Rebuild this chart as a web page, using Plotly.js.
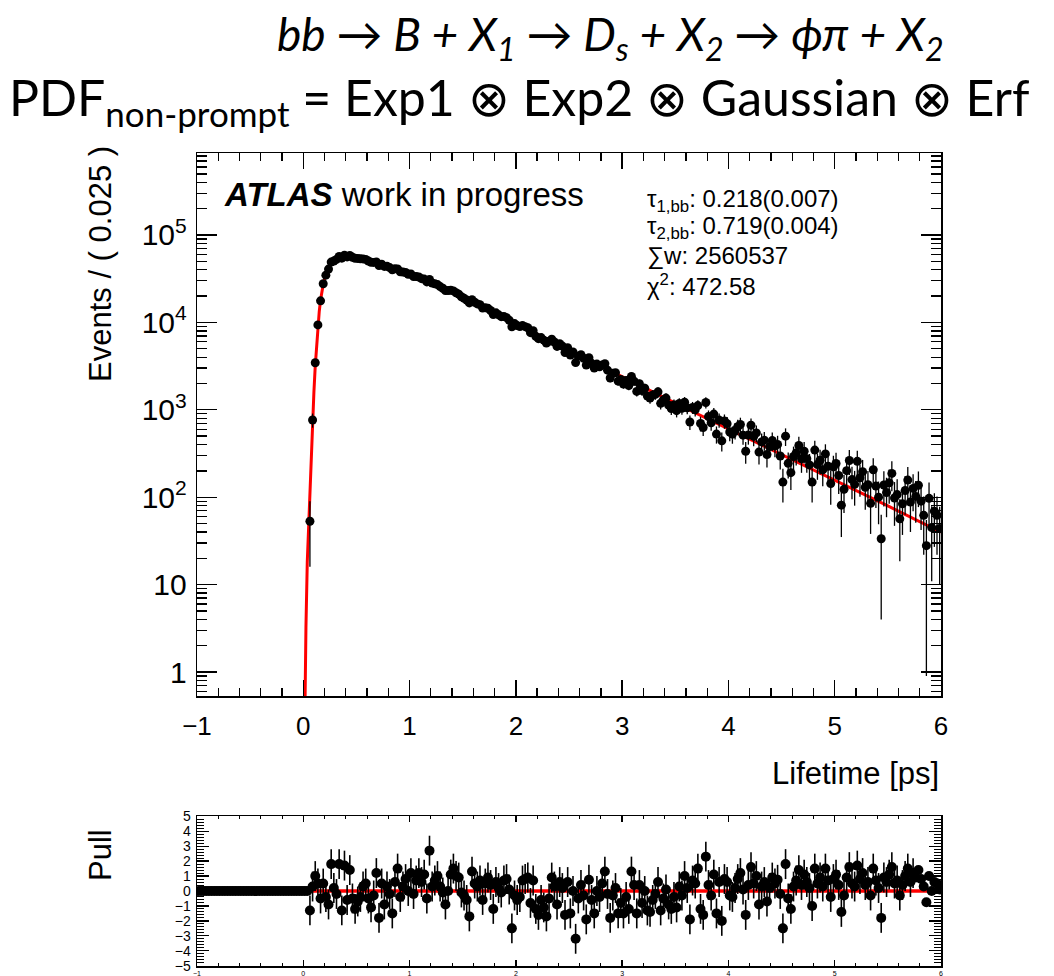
<!DOCTYPE html>
<html><head><meta charset="utf-8">
<script src="https://cdn.plot.ly/plotly-3.0.1.min.js"></script>
<style>body{margin:0;background:#fff}#chart{width:1054px;height:976px}</style>
</head><body><div id="chart"></div>
<script>
// ---- binning of the histogram ----
const histMin = -1, binWidth = 0.025, nBins = 280;
const firstFilledBin = 42; // bins below this are empty (pull drawn at 0)

// ---- data: events per bin (bins from 0.0625 ps onward) ----
const counts = [
53,765,3450,9360,17650,27650,34700,40750,48980,50460,
52550,56790,54340,58620,56080,58320,55590,54100,53920,53350,
53250,52570,50410,48660,48520,49170,44780,46250,43700,43970,
42390,39950,41070,40930,38000,37720,37240,35530,35750,33510,
33460,33030,31640,31260,29040,31030,28140,27620,27050,25660,
24570,23190,23180,23310,22900,21800,21040,19640,18860,18030,
16690,18140,17010,16280,15960,14600,14750,14480,13680,12270,
12860,12200,11630,11670,11330,10580,8885,9680,9197,8978,
9197,8938,8688,7623,8032,6927,6509,6703,6262,5795,
6071,6418,5972,5311,5691,5353,4518,5142,4229,4591,
3470,4110,4258,3886,3244,3943,3398,3005,3335,3102,
3248,3361,2839,2309,2616,2653,2127,2223,1969,2160,
1893,2406,2122,1622,1983,1656,1768,1434,1360,1472,
1500,1606,1186,1293,1360,1130,1036,1138,977,1181,
1042,1221,1053,725,1063,999,1118,699,628,1212,
836,710,893,527,763,441,745,694,557,526,
579,639,679,513,335,515,665,496,544,328,
429,449,308,379,444,386,402,296,149,499,
244,191,292,321,390,275,336,276,234,149,
346,236,265,206,313,226,143,222,243,177,
81,123,201,263,159,140,257,167,196,130,
139,85,206,134,100,33.5,138,113,146,187,
98,107,56.5,84,119,157,88,126,102,137,
90,62,27.9,97,44.9,69,62,43.9
];
const countErr = [
37,141,300,493,677,848,950,1029,1128,1145,
1169,1215,1189,1235,1208,1231,1202,1186,1184,1178,
1177,1169,1145,1125,1123,1131,1079,1097,1066,1069,
1050,1019,1033,1032,994,990,984,961,964,933,
933,927,907,902,869,898,855,847,839,817,
799,776,776,778,772,753,740,715,700,685,
659,687,665,651,644,616,619,614,596,565,
578,563,550,551,543,524,481,502,489,483,
489,482,475,445,457,424,411,417,403,388,
397,408,394,372,385,373,343,366,332,346,
300,327,333,318,290,320,297,280,294,284,
291,296,272,245,261,263,235,240,226,237,
222,250,235,205,227,207,214,193,188,196,
197,204,176,183,188,171,164,172,159,175,
165,178,165,137,166,161,171,135,128,178,
147,136,152,117,141,107,139,134,120,117,
123,129,133,116,93,116,131,114,119,92,
106,108,90,99,107,100,102,88,62,114,
80,70,87,91,101,85,93,85,78,62,
95,78,83,73,90,77,61,76,80,68,
46,57,72,83,64,60,82,66,71,58,
60,47,73,59,51,29.5,60,54,62,70,
51,53,38,47,56,64,48,57,51,60,
48,40,27,50,34,42,40,34
];

// ---- pulls: all 280 bins (empty bins have pull 0) ----
const pulls = [
0,0,0,0,0,0,0,0,0,0, 0,0,0,0,0,0,0,0,0,0,
0,0,0,0,0,0,0,0,0,0, 0,0,0,0,0,0,0,0,0,0, 0,0,
-1.3,0.3,1.0,0.5,-0.5,0.5,-0.4,-0.9,1.8,0.2,
-0.2,1.8,-1.3,1.7,-0.6,1.4,-0.5,-1.2,-0.7,-0.4,
0.3,0.5,-0.5,-1.1,-0.3,1.2,-1.8,0.5,-0.9,0.3,
-0.2,-1.5,0.6,1.5,-0.4,0.3,0.8,0.0,1.2,-0.2,
0.7,1.2,0.6,1.1,-0.5,2.7,0.3,0.7,1.0,0.3,
-0.1,-0.9,0.0,1.1,1.5,1.0,0.9,-0.1,-0.3,-0.6,
-1.7,1.3,0.5,0.3,0.7,-0.6,0.5,0.9,0.4,-1.2,
0.6,0.2,-0.1,0.7,0.8,0.1,-2.5,-0.3,-0.6,-0.4,
0.7,0.8,0.9,-0.8,0.7,-1.2,-1.6,-0.6,-1.1,-1.7,
-0.5,0.9,0.3,-0.9,0.6,0.2,-1.6,0.6,-1.5,0.0,
-3.2,-0.5,0.4,-0.3,-1.9,0.75,-0.6,-1.5,0.0,-0.4,
0.5,1.3,-0.2,-1.8,-0.3,0.2,-1.5,-0.8,-1.5,-0.4,
-1.2,1.3,0.4,-1.5,0.4,-0.8,0.0,-1.3,-1.4,-0.6,
-0.2,0.6,-1.3,-0.5,0.1,-0.9,-1.2,-0.4,-1.1,0.3,
-0.3,1.0,0.2,-1.9,0.7,0.5,1.5,-1.2,-1.6,2.3,
0.4,-0.3,1.1,-1.5,0.6,-2.0,0.8,0.6,-0.3,-0.4,
0.2,0.8,1.2,0.1,-1.6,0.4,1.6,0.5,1.0,-0.9,
0.3,0.6,-0.7,0.2,0.9,0.5,0.75,-0.2,-2.5,1.8,
-0.5,-1.2,0.3,0.7,1.4,0.4,1.1,0.6,0.2,-1.0,
1.5,0.5,0.9,0.3,1.5,0.7,-0.4,0.8,1.1,0.4,
-1.4,-0.3,0.9,1.6,0.5,0.3,1.7,0.8,1.2,0.4,
0.6,-0.3,1.5,0.7,0.2,-1.8,0.9,0.6,1.1,1.6,
0.5,0.7,-0.3,0.4,1.0,1.5,0.6,1.2,0.9,1.4,
0.8,0.3,-0.75,1.0,0.0,0.6,0.5,0.1
];
const pullErr = [
0,0,0,0,0,0,0,0,0,0, 0,0,0,0,0,0,0,0,0,0,
0,0,0,0,0,0,0,0,0,0, 0,0,0,0,0,0,0,0,0,0, 0,0,
1,1,1,1,1,1,1,1,1,1, 1,1,1,1,1,1,1,1,1,1, 1,1,1,1,1,1,1,1,1,1,
1,1,1,1,1,1,1,1,1,1, 1,1,1,1,1,1,1,1,1,1, 1,1,1,1,1,1,1,1,1,1,
1,1,1,1,1,1,1,1,1,1, 1,1,1,1,1,1,1,1,1,1, 1,1,1,1,1,1,1,1,1,1,
1,1,1,1,1,1,1,1,1,1, 1,1,1,1,1,1,1,1,1,1, 1,1,1,1,1,1,1,1,1,1,
1,1,1,1,1,1,1,1,1,1, 1,1,1,1,1,1,1,1,1,1, 1,1,1,1,1,1,1,1,1,1,
1,1,1,1,1,1,1,1,1,1, 1,1,1,1,1,1,1,1,1,1, 1,1,1,1,1,1,1,1,1,1,
1,1,1,1,1,1,1,1,1,1, 1,1,1,1,1,1,1,1,1,1, 1,1,1,1,1,1,1,1,1,1,
1,1,1,1,1,1,1,1,1,1, 1,1,1,1,1,1,1,1
];

// ---- fitted PDF curve ----
const curveX = [0.0,0.015,0.025,0.0375,0.05,0.0625,0.075,0.0875,0.1,0.1125,
  0.125,0.1375,0.15,0.1625,0.175,0.1875,0.2,0.2125,0.2375,0.2625,
  0.3,0.35,0.4,0.45,0.5,0.6,0.7,0.8,0.9,1.0,
  1.2,1.4,1.6,1.8,2.0,2.2,2.5,2.8,3.1,3.5,4.0,4.5,5.0,5.5,6.0];
const curveY = [0.01,0.5,3.2,18,48,107,300,724,1600,3160,
  5700,9120,13300,18000,22800,27200,31400,35100,41700,47000,
  51900,55600,56900,56500,55200,51500,47300,43200,38900,35100,
  28300,22100,17000,12700,9660,7330,4840,3160,2070,1190,603,309,158,79.4,39.8];
const pullFitX = [0.0375, 6.0];
const pullFitY = [0, 0];

// ---- text ----
const titleLine1 = '<i>bb → B + X<sub>1</sub> → D<sub>s</sub> + X<sub>2</sub> → ϕπ + X<sub>2</sub></i>';
const titleLine2 = 'PDF<sub>non-prompt</sub> = Exp1 ⊗ Exp2 ⊗ Gaussian ⊗ Erf';
const statLines = ['τ<sub>1,bb</sub>: 0.218(0.007)', 'τ<sub>2,bb</sub>: 0.719(0.004)', '∑w: 2560537', 'χ<sup>2</sup>: 472.58'];
const statY = [201, 228, 256, 285];

// ---- derived bin centres ----
const centers = [];
for (let i = 0; i < nBins; i++) centers.push(+(histMin + binWidth * (i + 0.5)).toFixed(4));
const dataX = centers.slice(firstFilledBin);

// ---- geometry helpers ----
const W = 1054, H = 976, ML = 197, MR = 113, MT = 153, MB = 10;
const PW = W - ML - MR, PH = H - MT - MB;
const px = x => (x - ML) / PW;
const py = y => (H - MB - y) / PH;
const FONT = 'Liberation Sans, Arial, sans-serif';

const traces = [
  {x: curveX, y: curveY, type: 'scatter', mode: 'lines', line: {color: '#ff0000', width: 3}, xaxis: 'x', yaxis: 'y', hoverinfo: 'skip'},
  {x: dataX, y: counts, type: 'scatter', mode: 'markers', marker: {color: '#000', size: 9},
   error_y: {type: 'data', array: countErr, color: '#000', thickness: 1.3, width: 0}, xaxis: 'x', yaxis: 'y'},
  {x: pullFitX, y: pullFitY, type: 'scatter', mode: 'lines', line: {color: '#ff0000', width: 3.5}, xaxis: 'x2', yaxis: 'y2', hoverinfo: 'skip'},
  {x: centers, y: pulls, type: 'scatter', mode: 'markers', marker: {color: '#000', size: 10},
   error_y: {type: 'data', array: pullErr, color: '#000', thickness: 1.6, width: 0}, xaxis: 'x2', yaxis: 'y2'}
];

const axCommon = {showline: true, linecolor: '#000', linewidth: 1.5, mirror: 'allticks', ticks: 'inside',
  tickcolor: '#000', tickwidth: 1.3, showgrid: false, zeroline: false};

const layout = {
  width: W, height: H, margin: {l: ML, r: MR, t: MT, b: MB},
  paper_bgcolor: '#fff', plot_bgcolor: '#fff', showlegend: false,
  font: {family: FONT, color: '#000'},
  xaxis: Object.assign({}, axCommon, {domain: [0, 1], anchor: 'y', range: [-1, 6], dtick: 1, tick0: 0, ticklen: 16,
    tickfont: {family: FONT, size: 26}, ticklabelstandoff: 6,
    minor: {dtick: 0.2, ticklen: 8, tickwidth: 1.3, tickcolor: '#000', ticks: 'inside'}}),
  yaxis: Object.assign({}, axCommon, {domain: [py(696), 1], anchor: 'x', type: 'log', range: [-0.2746, 5.938], dtick: 1,
    exponentformat: 'power', ticklen: 20, tickfont: {family: FONT, size: 24}, ticklabelstandoff: 4,
    minor: {dtick: 'D1', ticklen: 10, tickwidth: 1.3, tickcolor: '#000', ticks: 'inside'}}),
  xaxis2: Object.assign({}, axCommon, {domain: [0, 1], anchor: 'y2', range: [-1, 6], dtick: 1, ticklen: 6,
    tickfont: {family: FONT, size: 7}, ticklabelstandoff: 0, ticklabeloverflow: 'allow',
    minor: {dtick: 0.2, ticklen: 3, tickwidth: 1, tickcolor: '#000', ticks: 'inside'}}),
  yaxis2: Object.assign({}, axCommon, {domain: [0, py(816)], anchor: 'x2', range: [-5.02, 5.02], tickvals: [-5,-4,-3,-2,-1,0,1,2,3,4,5],
    ticklen: 12, tickfont: {family: FONT, size: 14}, ticklabelstandoff: 2, ticklabeloverflow: 'allow',
    minor: {dtick: 0.2, ticklen: 7, tickwidth: 1, tickcolor: '#000', ticks: 'inside'}}),
  annotations: [
    {xref: 'paper', yref: 'paper', x: px(610), y: py(37), xanchor: 'center', yanchor: 'middle', showarrow: false,
     text: titleLine1, font: {family: 'Lato, Open Sans, sans-serif', size: 46}},
    {xref: 'paper', yref: 'paper', x: px(519), y: py(100), xanchor: 'center', yanchor: 'middle', showarrow: false,
     text: titleLine2, font: {family: 'Lato, Open Sans, sans-serif', size: 50}},
    {xref: 'paper', yref: 'paper', x: px(222), y: py(195), xanchor: 'left', yanchor: 'middle', showarrow: false,
     text: '<b><i>ATLAS</i></b> work in progress', font: {family: FONT, size: 33}},
    {xref: 'paper', yref: 'paper', x: px(100), y: py(264), xanchor: 'center', yanchor: 'middle', showarrow: false,
     textangle: -90, text: 'Events / ( 0.025 )', font: {family: FONT, size: 31}},
    {xref: 'paper', yref: 'paper', x: px(941), y: py(773), xanchor: 'right', yanchor: 'middle', showarrow: false,
     text: 'Lifetime [ps]', font: {family: FONT, size: 31}},
    {xref: 'paper', yref: 'paper', x: px(100), y: py(855), xanchor: 'center', yanchor: 'middle', showarrow: false,
     textangle: -90, text: 'Pull', font: {family: FONT, size: 31}}
  ].concat(statLines.map((t, i) => ({xref: 'paper', yref: 'paper', x: px(645), y: py(statY[i]), xanchor: 'left', yanchor: 'middle',
     showarrow: false, text: t, font: {family: FONT, size: 24}})))
};

Plotly.newPlot('chart', traces, layout, {displayModeBar: false, staticPlot: true});
</script>
</body></html>
